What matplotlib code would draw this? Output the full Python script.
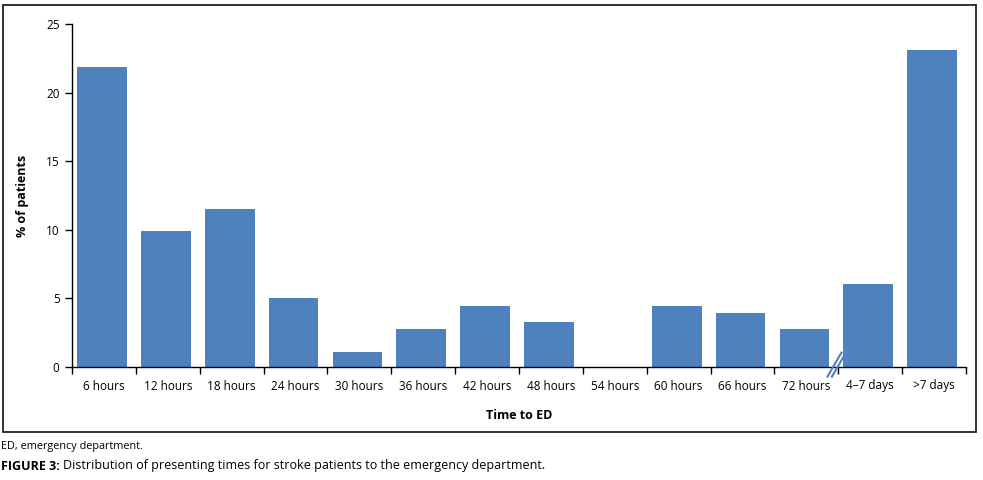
import matplotlib
matplotlib.use("Agg")
import matplotlib.pyplot as plt
from matplotlib.patches import Rectangle
from matplotlib.lines import Line2D

categories = ["6 hours", "12 hours", "18 hours", "24 hours", "30 hours", "36 hours",
              "42 hours", "48 hours", "54 hours", "60 hours", "66 hours", "72 hours",
              "4\u20137 days", ">7 days"]
values = [21.9, 9.9, 11.5, 5.0, 1.1, 2.8, 4.45, 3.3, 0.0, 4.45, 3.9, 2.8, 6.05, 23.1]
yticks = [0, 5, 10, 15, 20, 25]

plt.rcParams['font.family'] = ['Open Sans', 'DejaVu Sans']
color = "#4F81BD"

fig = plt.figure(figsize=(9.83, 4.8), dpi=100)
ax = fig.add_axes([72/983, 1-367/480, (966-72)/983, (367-24)/480])

x = list(range(len(categories)))
ax.bar([i - 0.03 for i in x], values, width=0.78, color=color, zorder=2)
ax.set_xlim(-0.5, len(categories) - 0.5)
ax.set_ylim(0, 25)
ax.set_yticks(yticks)
ax.set_yticklabels([str(t) for t in yticks], fontsize=8.5)
ax.set_xticks([i - 0.5 for i in range(len(categories) + 1)])
ax.set_xticklabels([])
ax.set_xticks(x, minor=True)
ax.set_xticklabels(categories, minor=True, fontsize=8.5)
ax.tick_params(axis='x', which='minor', length=0, pad=9)
ax.tick_params(axis='x', which='major', length=5, width=1, direction='out')
ax.tick_params(axis='y', length=5, width=1, direction='out', pad=4)
for s in ['top', 'right']:
    ax.spines[s].set_visible(False)
for s in ['left', 'bottom']:
    ax.spines[s].set_linewidth(1)

ax.set_xlabel("Time to ED", fontsize=9, fontweight='bold', labelpad=12)
ax.set_ylabel("% of patients", fontsize=9, fontweight='bold', labelpad=12)

# axis break marker
for dx in (0.0, 0.07):
    ax.add_line(Line2D([11.33 + dx, 11.55 + dx], [-0.7, 1.05], color=color, lw=1.5,
                       clip_on=False, zorder=3))

# border box
fig.patches.append(Rectangle((3/983, 1-432/480), (976-3)/983, (432-5)/480,
                             transform=fig.transFigure, fill=False, lw=1.3,
                             edgecolor='#222222'))

fig.text(1/983, 1-447/480, "ED, emergency department.", fontsize=7.8, va='center')
t1 = fig.text(1/983, 1-466/480, "FIGURE 3:", fontsize=9, va='center', fontweight='bold')
fig.canvas.draw()
bb = t1.get_window_extent(renderer=fig.canvas.get_renderer())
fig.text((bb.x1 + 3)/983, 1-466/480,
         "Distribution of presenting times for stroke patients to the emergency department.",
         fontsize=9, va='center')

fig.savefig("out.png", dpi=100)
